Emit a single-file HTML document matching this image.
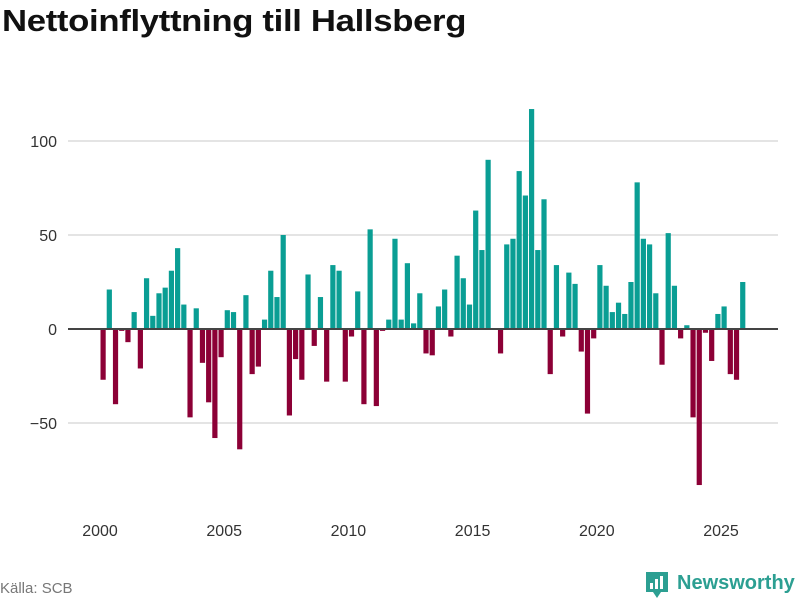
<!DOCTYPE html>
<html><head><meta charset="utf-8"><style>
body{margin:0;background:#fff;font-family:"Liberation Sans","DejaVu Sans",sans-serif;}
#wrap{position:relative;width:800px;height:600px;overflow:hidden;}
h1{position:absolute;left:2px;top:3px;margin:0;font-size:31px;font-weight:bold;color:#111;letter-spacing:-0.3px;transform:scaleX(1.12);transform-origin:0 0;white-space:nowrap;}
</style></head><body>
<div id="wrap">
<h1>Nettoinflyttning till Hallsberg</h1>
<svg id="chart" width="800" height="600" style="position:absolute;left:0;top:0"></svg>
</div>
<script>
const startYear = 2000;
const values = [-27,21,-40,-1,-7,9,-21,27,7,19,22,31,43,13,-47,11,-18,-39,-58,-15,10,9,-64,18,-24,-20,5,31,17,50,-46,-16,-27,29,-9,17,-28,34,31,-28,-4,20,-40,53,-41,-1,5,48,5,35,3,19,-13,-14,12,21,-4,39,27,13,63,42,90,0,-13,45,48,84,71,117,42,69,-24,34,-4,30,24,-12,-45,-5,34,23,9,14,8,25,78,48,45,19,-19,51,23,-5,2,-47,-83,-2,-17,8,12,-24,-27,25];
const yTicks = [-50,0,50,100];
const yTickLabels = ["\u221250","0","50","100"];
const xTicks = [2000,2005,2010,2015,2020,2025];

const svg = document.getElementById('chart');
const NS = 'http://www.w3.org/2000/svg';
const x0 = 100, pxPerYear = 24.84, y0 = 329, pxPerUnit = 1.88;
const xs = t => x0 + (t - startYear) * pxPerYear;
const ys = v => y0 - v * pxPerUnit;
function mk(tag, attrs){const e=document.createElementNS(NS,tag);for(const k in attrs)e.setAttribute(k,attrs[k]);svg.appendChild(e);return e;}

yTicks.forEach((t,i)=>{
  if(t!==0){
    const g=mk('line',{x1:68,x2:778,y1:ys(t),y2:ys(t),stroke:'#dcdcdc','stroke-width':1.5});
    
    
  }
  const l=mk('text',{x:57,y:ys(t)+6,'text-anchor':'end','font-size':16,fill:'#333'});
  l.textContent=yTickLabels[i];
  
  
});
xTicks.forEach(t=>{
  const l=mk('text',{x:xs(t),y:536,'text-anchor':'middle','font-size':16,fill:'#333'});
  l.textContent=t;
  
  
});
values.forEach((v,i)=>{
  const cx = xs(startYear + (i+0.5)/4);
  const top = Math.min(ys(v), y0), h = Math.abs(ys(v)-y0);
  const r=mk('rect',{x:cx-2.6,y:top,width:5.2,height:h,fill:v>=0?'#0a9e94':'#8c0036'});
  
  
});
const z=mk('line',{x1:68,x2:778,y1:y0,y2:y0,stroke:'#444','stroke-width':2});



const src=mk('text',{x:0,y:593,'font-size':15,fill:'#777'});
src.textContent='Källa: SCB';



const icon=mk('g',{});


icon.innerHTML='<path d="M646 572h22v20h-7l-4 6-4-6h-7z" fill="#2c9f92"/><rect x="650" y="583" width="3" height="6" fill="#fff"/><rect x="655" y="579" width="3" height="10" fill="#fff"/><rect x="660" y="576" width="3" height="13" fill="#fff"/>';
const logo=mk('text',{x:677,y:589,'font-size':20,'font-weight':'bold',fill:'#2c9f92'});
logo.textContent='Newsworthy';


</script>
</body></html>
